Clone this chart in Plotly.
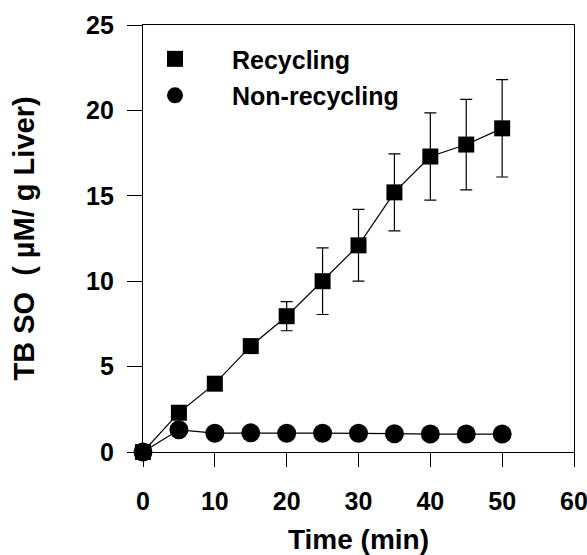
import plotly.graph_objects as go

time_min = [0, 5, 10, 15, 20, 25, 30, 35, 40, 45, 50]
recycling = [0, 2.3, 4.0, 6.2, 7.95, 10.0, 12.1, 15.2, 17.3, 18.0, 18.95]
recycling_err = [0, 0.3, 0.3, 0.3, 0.85, 1.95, 2.1, 2.25, 2.55, 2.65, 2.85]
non_recycling = [0, 1.3, 1.1, 1.12, 1.1, 1.1, 1.1, 1.07, 1.05, 1.05, 1.05]
x_ticks = [0, 10, 20, 30, 40, 50, 60]
y_ticks = [0, 5, 10, 15, 20, 25]
series_names = ["Recycling", "Non-recycling"]

FONT = "Liberation Sans, Arial, sans-serif"
SQ = dict(symbol="square", size=16, color="black")
CI = dict(symbol="circle", size=19, color="black")

fig = go.Figure()
fig.add_trace(go.Scatter(
    x=time_min, y=non_recycling, name=series_names[1], showlegend=False,
    mode="lines+markers",
    line=dict(color="black", width=1.2), marker=CI, cliponaxis=False,
))
fig.add_trace(go.Scatter(
    x=time_min, y=recycling, name=series_names[0], showlegend=False,
    mode="lines+markers",
    line=dict(color="black", width=1.2), marker=SQ,
    error_y=dict(type="data", array=recycling_err, visible=True,
                 color="black", thickness=1.2, width=6),
    cliponaxis=False,
))
# legend entries (marker only, as in the original)
fig.add_trace(go.Scatter(x=[None], y=[None], name=series_names[0], mode="markers",
                         marker=SQ, legendgroup="a", legendrank=1))
fig.add_trace(go.Scatter(x=[None], y=[None], name=series_names[1], mode="markers",
                         marker=CI, legendgroup="b", legendrank=2))

fig.update_layout(
    width=587, height=555,
    margin=dict(l=143, r=13, t=25, b=103),
    paper_bgcolor="white", plot_bgcolor="white",
    font=dict(family=FONT, color="black", size=25),
    showlegend=True,
    legend=dict(
        x=-0.058, y=0.974, xanchor="left", yanchor="top",
        bgcolor="rgba(0,0,0,0)", borderwidth=0,
        font=dict(family=FONT, size=25, color="black", weight="bold"),
        itemwidth=104, tracegroupgap=1,
    ),
    xaxis=dict(
        range=[0, 60], tickvals=x_ticks, ticks="outside", ticklen=14,
        tickwidth=1.2, tickcolor="black", showline=True, linecolor="black",
        linewidth=1.3, mirror=True, showgrid=False, zeroline=False,
        tickfont=dict(family=FONT, size=25, weight="bold"),
        ticklabelstandoff=13, ticklabeloverflow="allow", automargin=False,
        title=dict(text="Time (min)", standoff=19,
                   font=dict(family=FONT, size=28, weight="bold")),
    ),
    yaxis=dict(
        range=[0, 25], tickvals=y_ticks, ticks="outside", ticklen=15,
        tickwidth=1.2, tickcolor="black", showline=True, linecolor="black",
        linewidth=1.3, mirror=True, showgrid=False, zeroline=False,
        tickfont=dict(family=FONT, size=25, weight="bold"),
        ticklabelstandoff=8, automargin=False,
        title=dict(text="TB SO &nbsp;( µM/ g Liver)", standoff=42,
                   font=dict(family=FONT, size=29, weight="bold")),
    ),
)

fig.write_html(
    "out.html",
    config={"displayModeBar": False},
    post_script="document.body.style.margin='0';document.body.style.overflow='hidden';",
)
